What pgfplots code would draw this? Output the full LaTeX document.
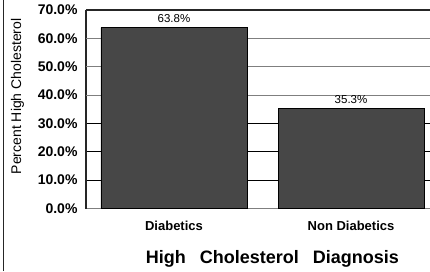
\documentclass[border=0pt]{standalone}
\usepackage{pgfplots}
\pgfplotsset{compat=1.18}
\usepackage{fontspec}
\setmainfont{Liberation Sans}
\definecolor{barfill}{HTML}{474747}
\definecolor{gridgray}{HTML}{7F7F7F}
\begin{document}
\begin{tikzpicture}
\begin{axis}[
  at={(0pt,0pt)}, anchor=south west,
  scale only axis, width=344pt, height=198.5pt,
  xmin=-0.497, xmax=1.446, ymin=0, ymax=70,
  ybar, bar width=146pt,
  /pgf/number format/assume math mode=true,
  xtick={0,1}, xticklabels={Diabetics, Non Diabetics},
  ytick={0,10,20,30,40,50,60,70},
  yticklabels={0.0\%,10.0\%,20.0\%,30.0\%,40.0\%,50.0\%,60.0\%,70.0\%},
  major tick length=0pt,
  axis x line*=bottom, axis y line*=left,
  x axis line style={draw=gridgray, line width=1.6pt, -},
  y axis line style={draw=black!85, line width=1.2pt, -},
  ymajorgrids, grid style={black, line width=0.6pt},
  extra y ticks={40,50,60}, extra y tick labels={},
  extra y tick style={grid style={gridgray, line width=0.9pt}},
  yticklabel style={font=\fontsize{14}{16}\selectfont\bfseries, anchor=east, xshift=-5pt},
  xticklabel style={font=\fontsize{13}{15}\selectfont\bfseries, anchor=north, yshift=-9pt},
  xlabel={High\hspace{14pt}Cholesterol\hspace{14pt}Diagnosis},
  xlabel style={font=\fontsize{18}{20}\selectfont\bfseries, at={(axis description cs:0.542,-0.2746)}, anchor=base},
  ylabel={Percent High Cholesterol},
  ylabel style={font=\fontsize{14}{16}\selectfont, at={(axis description cs:-0.199,0.565)}, anchor=center},
  nodes near coords={\pgfmathprintnumber[fixed,precision=1,zerofill]{\pgfplotspointmeta}\%},
  nodes near coords style={font=\fontsize{11.5}{13}\selectfont, black, anchor=south, yshift=1pt},
  clip=false,
]
\addplot[fill=barfill, draw=black, line width=0.9pt] coordinates {(0,63.8) (1,35.3)};
\draw[black!85, line width=1.5pt] (rel axis cs:0,1) -- (rel axis cs:1,1);
\end{axis}
\draw[black!85, line width=0.8pt] (-83pt,-62.5pt) -- (-83pt,208.5pt);
\pgfresetboundingbox
\useasboundingbox (-86pt,-62.5pt) rectangle (344pt,208.5pt);
\end{tikzpicture}
\end{document}
